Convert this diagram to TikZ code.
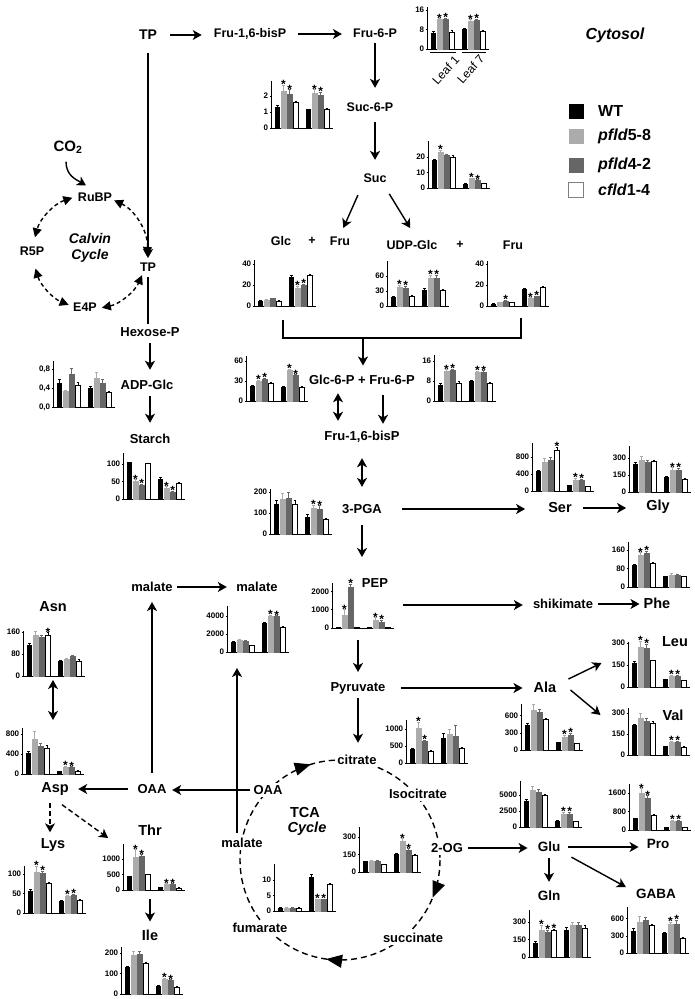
\documentclass[tikz,border=0pt]{standalone}
\usepackage{fontspec}
\setmainfont{Liberation Sans}
\usetikzlibrary{arrows.meta,calc}
\definecolor{lg}{HTML}{ABABAB}
\definecolor{dg}{HTML}{666666}
\tikzset{
 lab/.style={font=\fontsize{12.5}{13}\selectfont\bfseries,inner sep=1pt},
 labB/.style={font=\fontsize{13}{14}\selectfont\bfseries,inner sep=1pt},
 labC/.style={font=\fontsize{14}{15}\selectfont\bfseries,inner sep=1pt},
 calv/.style={font=\fontsize{14}{15}\selectfont\bfseries\itshape,inner sep=1pt},
 aa/.style={font=\fontsize{14.5}{16}\selectfont\bfseries,inner sep=1pt},
 aab/.style={font=\fontsize{13.5}{15}\selectfont\bfseries,inner sep=1pt},
 tcal/.style={labB,fill=white,inner sep=2pt},
 arr/.style={line width=1.4pt,-{Stealth[length=9pt,width=10pt,inset=2.5pt]}},
 darr/.style={line width=1.4pt,{Stealth[length=9pt,width=10pt,inset=2.5pt]}-{Stealth[length=9pt,width=10pt,inset=2.5pt]}},
 dsharr/.style={arr,dash pattern=on 5pt off 3pt},
 plainln/.style={line width=1.4pt},
 ccyc/.style={line width=1.4pt,dash pattern=on 4pt off 3pt,{Triangle[length=9pt,width=9pt]}-{Triangle[length=9pt,width=9pt]}},
 tcyc/.style={line width=1.4pt,dash pattern=on 6pt off 4pt},
 thead/.style={line width=1.4pt,-{Triangle[length=16pt,width=13pt]}},
 axl/.style={line width=0.7pt},
 tickl/.style={font=\fontsize{8}{8}\selectfont\bfseries,anchor=east,inner sep=1pt},
 starl/.style={font=\fontsize{12}{12}\selectfont\bfseries,anchor=base,yshift=-3.5pt,inner sep=0pt},
 legbox/.style={minimum size=15pt,inner sep=0pt},
 legt/.style={font=\fontsize{16}{17}\selectfont\bfseries,anchor=west,inner sep=0pt},
 leaf/.style={font=\fontsize{12}{13}\selectfont,inner sep=0pt,rotate=48,anchor=east},
}
% #1 x0, #2 y0 (origin), #3 px per unit, #4 axis height, #5 ticks v/l, #6 bars v/e/star
\newcommand\barch[6]{%
\begin{scope}[shift={(#1,#2)}]
\draw[axl] (62,0) -- (0,0) -- (0,-#4);
\foreach \tv/\tl in {#5}{\draw[axl] (0,-\tv*#3) -- (-1.5,-\tv*#3) node[tickl]{\tl};}
\foreach \bv/\be/\bs [count=\bi] in {#6}{%
 \pgfmathsetmacro\bx{\bi<5 ? 4+(\bi-1)*6.2 : 35+(\bi-5)*6.2}%
 \pgfmathtruncatemacro\bk{mod(\bi-1,4)}%
 \pgfmathsetmacro\bt{-(\bv)*#3}%
 \pgfmathsetmacro\et{-(\bv+\be)*#3}%
 \edef\bfc{\ifcase\bk black\or lg\or dg\or white\fi}%
 \edef\ecl{\ifcase\bk black\or lg\or dg\or black\fi}%
 \draw[draw=\ecl,line width=0.6pt] (\bx+2.3,\bt) -- (\bx+2.3,\et) (\bx+1,\et) -- (\bx+3.6,\et);
 \draw[fill=\bfc,draw=\ecl,line width=0.5pt] (\bx,0) rectangle (\bx+4.6,\bt);
 \ifnum\bs=1 \node[starl] at (\bx+2.3,\et) {*};\fi
}
\end{scope}}
\begin{document}
\begin{tikzpicture}[x=1pt,y=-1pt]
\fill[white] (0,0) rectangle (694,999);
\useasboundingbox (0,0) rectangle (694,999);

% ---------- charts ----------
\barch{427}{49}{2.44}{42}{0/0,8/8,16/16}{6.5/0.7/0,12/0.5/1,12.2/0.5/1,7/0.8/0,8/0.4/0,11.5/0.5/1,11.8/0.5/1,7.2/0.4/0}
\draw[axl] (430,52) -- (456,52) (462,52) -- (486,52);
\node[leaf] (leaf1) at (457,58) {Leaf 1};
\node[leaf] (leaf7) at (482,57) {Leaf 7};
\barch{271}{128}{16}{47}{0/0,1/1,2/2}{1.3/0.15/0,2.3/0.4/1,2.1/0.3/1,1.6/0.1/0,1.15/0.05/0,2.15/0.25/1,2.05/0.2/1,1.2/0.05/0}
\barch{428}{188}{1.55}{47}{0/0,10/10,20/20}{18/0.5/0,23/1.5/1,21/1/0,20/1/0,2.5/0.3/0,6/0.5/1,5/0.4/1,3/0.3/0}
\barch{254}{306}{1.05}{46}{0/0,20/20,40/40}{4.5/0.5/0,5.5/0.5/0,7/0.8/0,5/0.5/0,27.5/1.5/0,17/2/1,19.5/1.5/1,29.5/1/0}
\barch{387}{306}{0.5}{45}{0/0,30/30,60/60}{17/2/0,37/5/1,36/4/1,20/2/0,32/3/0,55/7/1,56/6/1,31/3/0}
\barch{487}{306}{1.05}{45}{0/0,20/20,40/40}{2/0.3/0,3.5/0.3/0,5/0.5/1,3.5/0.3/0,15.5/1/0,7.5/0.5/1,9/0.5/1,17.5/1/0}
\barch{53}{407}{47.5}{46}{0/{0,0},0.4/{0,4},0.8/{0,8}}{0.5/0.08/0,0.33/0.03/0,0.69/0.12/0,0.45/0.07/0,0.4/0.04/0,0.6/0.13/0,0.51/0.08/0,0.31/0.03/0}
\barch{123}{499}{0.35}{46}{0/0,50/50,100/100}{104/2/0,50/5/1,40/3/1,101/2/0,57/5/0,30/5/1,20/3/1,45/4/0}
\barch{246}{401}{0.667}{45}{0/0,30/30,60/60}{22/1/0,30/1/1,33/1.5/1,27/1/0,21/1/0,46/2/1,38/1.5/1,21/1/0}
\barch{434}{401}{2.5}{46}{0/0,8/8,16/16}{6.5/0.5/0,12/0.5/1,12.2/0.5/1,7/0.8/0,8/0.3/0,11.5/0.5/1,11.7/0.5/1,7.3/0.3/0}
\barch{270}{534}{0.21}{45}{0/0,100/100,200/200}{140/20/0,165/30/0,172/25/0,143/18/0,80/15/0,122/15/1,120/15/1,70/6/0}
\barch{532}{491}{0.0425}{48}{0/0,400/400,800/800}{460/30/0,680/80/0,720/80/0,960/80/1,130/15/0,250/50/1,250/30/1,110/10/0}
\barch{629}{492}{0.113}{46}{0/0,150/150,300/300}{250/15/0,280/40/0,260/25/0,270/15/0,130/10/0,190/25/1,190/20/1,110/8/0}
\barch{628}{587}{0.23}{45}{0/0,80/80,160/160}{95/5/0,140/10/1,145/10/1,105/3/0,45/3/0,52/6/0,52/4/0,45/3/0}
\barch{628}{687}{0.147}{45}{0/0,150/150,300/300}{165/10/0,270/40/1,265/25/1,180/5/0,50/3/0,75/5/1,75/5/1,45/3/0}
\barch{628}{755}{0.14}{47}{0/0,150/150,300/300}{210/10/0,265/30/0,240/20/0,230/10/0,60/5/0,90/10/1,90/8/1,55/5/0}
\barch{332}{628}{0.0183}{45}{0/0,1000/1000,2000/2000}{40/10/0,700/300/1,2250/150/1,50/10/0,20/5/0,420/150/1,320/120/1,20/5/0}
\barch{227}{652}{0.009}{46}{0/0,2000/2000,4000/4000}{1100/80/0,1300/80/0,1250/60/0,750/50/0,3200/80/0,4000/100/1,3950/100/1,2800/80/0}
\barch{23}{676}{0.275}{45}{0/0,80/80,160/160}{112/8/0,148/15/0,140/8/0,150/8/1,52/4/0,60/5/0,72/5/0,55/6/0}
\barch{22}{774}{0.05}{46}{0/0,400/400,800/800}{420/30/0,700/150/0,550/60/0,520/50/0,50/5/0,140/20/1,130/20/1,60/8/0}
\barch{24}{913}{0.39}{47}{0/0,50/50,100/100}{55/6/0,105/15/1,103/5/1,76/3/0,30/3/0,42/3/1,45/3/1,32/2/0}
\barch{123}{890}{0.031}{46}{0/0,500/500,1000/1000}{430/20/0,1050/250/1,1080/60/1,500/15/0,90/10/0,190/15/1,190/15/1,70/5/0}
\barch{121}{994}{0.205}{47}{0/0,100/100,200/200}{130/5/0,190/20/0,195/15/0,150/5/0,40/3/0,70/8/1,65/5/1,35/3/0}
\barch{406}{763}{0.034}{43}{0/0,500/500,1000/1000}{400/40/0,1020/180/1,630/50/1,340/30/0,720/150/0,850/130/0,800/300/0,430/40/0}
\barch{521}{750}{0.057}{46}{0/0,300/300,600/600}{440/30/0,700/100/0,660/50/0,540/20/0,130/10/0,230/30/1,260/30/1,110/10/0}
\barch{520}{827}{0.0064}{46}{0/0,2500/2500,5000/5000}{4100/300/0,5800/600/0,5500/400/0,4900/200/0,900/100/0,2000/300/1,2050/300/1,850/80/0}
\barch{629}{830}{0.023}{46}{0/0,800/800,1600/1600}{500/30/0,1600/200/1,1400/100/1,650/30/0,120/10/0,380/40/1,400/30/1,100/10/0}
\barch{529}{957}{0.117}{47}{0/0,150/150,300/300}{120/15/0,225/50/1,215/15/1,230/10/1,230/20/0,270/25/0,270/25/0,245/25/0}
\barch{627}{953}{0.057}{46}{0/0,300/300,600/600}{390/40/0,540/100/0,570/60/0,480/30/0,340/25/0,500/40/1,510/70/1,260/20/0}

% ---------- TCA cycle ----------
\coordinate (tcaC) at (340,860);
\draw[tcyc] (tcaC) circle[radius=100];
\draw[thead] (tcaC) ++(-116:100) arc[start angle=-116,end angle=-107,radius=100];
\draw[thead] (tcaC) ++(13:100) arc[start angle=13,end angle=22,radius=100];
\draw[thead] (tcaC) ++(89:100) arc[start angle=89,end angle=98,radius=100];
\barch{274}{911}{3.1}{47}{0/0,5/5,10/10}{1/0.1/0,1/0.05/0,1/0.05/0,1/0.1/0,11/0.8/0,3.7/0.2/1,3.7/0.2/1,8.5/0.6/0}
\barch{359}{872}{0.117}{45}{0/0,150/150,300/300}{88/5/0,95/5/0,95/5/0,65/5/0,150/8/0,260/25/1,190/10/1,140/12/0}

% ---------- labels ----------
\node[labC] (tpa) at (148,35) {TP};
\node[lab] (fbp1) at (250,34) {Fru-1,6-bisP};
\node[lab] (f6p) at (375,33) {Fru-6-P};
\node[lab] (s6p) at (370,107) {Suc-6-P};
\node[lab] (suc) at (375,178) {Suc};
\node[lab] (glc) at (281,241) {Glc};
\node[lab] (pl1) at (312,241) {+};
\node[lab] (frua) at (340,241) {Fru};
\node[lab] (udpg) at (412,245) {UDP-Glc};
\node[lab] (pl2) at (460,245) {+};
\node[lab] (frub) at (513,245) {Fru};
\node[font=\fontsize{16}{17}\selectfont\bfseries\itshape,inner sep=1pt] (cyt) at (615,35) {Cytosol};
\node[font=\fontsize{15}{16}\selectfont\bfseries,inner sep=1pt] (co2) at (68,147) {CO\textsubscript{2}};
\node[lab] (rubp) at (95,197) {RuBP};
\node[lab] (r5p) at (32,251) {R5P};
\node[lab] (e4p) at (85,307) {E4P};
\node[lab] (tpb) at (148,267) {TP};
\node[calv] (calv1) at (90,238) {Calvin};
\node[calv] (calv2) at (90,256) {Cycle};
\node[labB] (hexp) at (150,332) {Hexose-P};
\node[labB] (adpg) at (147,385) {ADP-Glc};
\node[labB] (starch) at (150,439) {Starch};
\node[labB] (g6p) at (362,380) {Glc-6-P + Fru-6-P};
\node[labB] (fbp2) at (362,437) {Fru-1,6-bisP};
\node[labB] (pga) at (362,509) {3-PGA};
\node[labB] (pep) at (375,583) {PEP};
\node[labB] (pyr) at (358,688) {Pyruvate};
\node[labB] (mala) at (152,587) {malate};
\node[labB] (malb) at (257,587) {malate};
\node[labB] (oaa) at (152,789) {OAA};
\node[tcal] (cit) at (357,760) {citrate};
\node[tcal] (iso) at (418,794) {Isocitrate};
\node[tcal] (og) at (447,848) {2-OG};
\node[tcal] (succ) at (413,938) {succinate};
\node[tcal] (fum) at (260,928) {fumarate};
\node[tcal] (malt) at (242,843) {malate};
\node[tcal] (oaat) at (268,790) {OAA};
\node[font=\fontsize{14.5}{16}\selectfont\bfseries,inner sep=1pt] (tca1) at (305,812) {TCA};
\node[font=\fontsize{14.5}{16}\selectfont\bfseries\itshape,inner sep=1pt] (tca2) at (307,829) {Cycle};
\node[aa] (asn) at (53,607) {Asn};
\node[aa] (asp) at (55,789) {Asp};
\node[aa] (lys) at (53,845) {Lys};
\node[aa] (thr) at (150,830) {Thr};
\node[aa] (ile) at (150,935) {Ile};
\node[aa] (ser) at (560,508) {Ser};
\node[aa] (gly) at (658,507) {Gly};
\node[labB] (shik) at (563,604) {shikimate};
\node[aa] (phe) at (657,603) {Phe};
\node[aa] (ala) at (545,687) {Ala};
\node[aa] (leu) at (675,642) {Leu};
\node[aa] (val) at (673,715) {Val};
\node[aab] (glu) at (549,847) {Glu};
\node[aab] (pro) at (658,844) {Pro};
\node[aab] (gln) at (549,896) {Gln};
\node[aab] (gaba) at (656,894) {GABA};

% legend
\node[legbox,fill=black] (lg1) at (576,111) {};
\node[legt] (lt1) at (598,111) {WT};
\node[legbox,fill=lg] (lg2) at (576,136) {};
\node[legt] (lt2) at (598,136) {\textit{pfld}5-8};
\node[legbox,fill=dg] (lg3) at (576,165) {};
\node[legt] (lt3) at (598,165) {\textit{pfld}4-2};
\node[legbox,fill=white,draw=gray,line width=0.7pt] (lg4) at (576,190) {};
\node[legt] (lt4) at (598,190) {\textit{cfld}1-4};

% ---------- connectors ----------
\draw[arr,shorten <=12pt,shorten >=11pt] (tpa.east) -- (tpa.east -| fbp1.west);
\draw[arr,shorten <=11pt,shorten >=10pt] (fbp1.east) -- (fbp1.east -| f6p.west);
\draw[arr,shorten <=11.5pt,shorten >=3.5pt] (tpa.south) -- (tpb.north);
\draw[arr,shorten <=4.5pt,shorten >=13.5pt] (f6p.south) -- (f6p.south |- s6p.north);
\draw[arr,shorten <=9.5pt,shorten >=12.5pt] (s6p.south -| f6p.south) -- (f6p.south |- suc.north);
\draw[arr,shorten <=12.6pt,shorten >=8.2pt] ($(suc.south)+(-12,0)$) -- (frua.north);
\draw[arr,shorten <=12pt,shorten >=13pt] ($(suc.south)+(8,0)$) -- ($(udpg.north)+(5,0)$);
\coordinate (bkl) at (283,320);
\coordinate (bkr) at (521,318);
\coordinate (bkm) at (363,338);
\draw[plainln] (bkl) -- ++(0,18) -| (bkr);
\draw[arr,shorten >=8.5pt] (bkm) -- (bkm |- g6p.north);
\draw[darr,shorten <=7.3pt,shorten >=9.3pt] ($(g6p.south)+(-24,0)$) -- ($(fbp2.north)+(-24,0)$);
\draw[arr,shorten <=9.3pt,shorten >=6.3pt] ($(g6p.south)+(21,0)$) -- ($(fbp2.north)+(21,0)$);
\draw[darr,shorten <=14.3pt,shorten >=16.3pt] (fbp2.south) -- (pga.north);
\draw[arr,shorten <=10.3pt,shorten >=20.3pt] (pga.south) -- (pga.south |- pep.north);
\coordinate (pepax) at (358,628);
\coordinate (pepR) at (394,605);
\draw[arr,shorten <=12pt,shorten >=9pt] (pepax) -- (pepax |- pyr.north);
\draw[arr,shorten <=3pt,shorten >=10.3pt] (pyr.south) -- (pyr.south |- cit.north);
\draw[arr,shorten <=19pt,shorten >=22pt] (pga.east) -- (pga.east -| ser.west);
\draw[arr,shorten <=10pt,shorten >=19pt] (ser.east) -- (ser.east -| gly.west);
\draw[arr,shorten <=9pt,shorten >=9pt] (pepR) -- (pepR -| shik.west);
\draw[arr,shorten <=4pt,shorten >=3pt] (shik.east) -- (shik.east -| phe.west);
\draw[arr,shorten <=14pt,shorten >=10pt] (pyr.east) -- (pyr.east -| ala.west);
\draw[arr] ($(ala.east)+(11,-8)$) -- ($(ala.east)+(44,-24)$);
\draw[arr] ($(ala.east)+(13,3)$) -- ($(ala.east)+(43,28)$);
\draw[arr,shorten <=3pt,shorten >=9pt] (og.east) -- (og.east -| glu.west);
\draw[arr,shorten <=7pt,shorten >=7pt] (glu.east) -- (glu.east -| pro.west);
\draw[arr,shorten <=5pt,shorten >=8pt] (glu.south) -- (glu.south |- gln.north);
\draw[arr] ($(glu.south east)+(10,4)$) -- ($(gaba.north west)+(-9,-1)$);
\draw[arr,shorten <=3.4pt,shorten >=8.4pt] (mala.east) -- (malb.west);
\draw[arr,shorten <=10pt,shorten >=9pt] (oaa.north) -- (mala.south);
\coordinate (malC) at (237,668);
\draw[arr,shorten <=3pt] ($(malt.north)+(-5,0)$) -- (malC);
\draw[arr,shorten <=1pt,shorten >=4.5pt] (oaat.west) -- (oaat.west -| oaa.east);
\draw[arr,shorten <=8.5pt,shorten >=8.3pt] (oaa.west) -- (oaa.west -| asp.east);
\coordinate (asnAx) at (53,676);
\coordinate (aspTop) at (53,728);
\draw[darr,shorten <=4pt,shorten >=8pt] (asnAx) -- (aspTop);
\coordinate (asplys) at ($(asp.south)+(-5,0)$);
\draw[dsharr,shorten <=6pt,shorten >=5pt] (asplys) -- (asplys |- lys.north);
\draw[dsharr] ($(asp.south)+(7,8)$) -- ($(thr.west)+(-29,8)$);
\coordinate (thrAx) at (150,890);
\draw[arr,shorten <=9pt,shorten >=7pt] (thrAx) -- (ile.north);
\draw[plainln,shorten <=4.5pt,shorten >=2pt] (tpb.south) -- (tpb.south |- hexp.north);
\draw[arr,shorten <=5.3pt,shorten >=9.3pt] (hexp.south) -- (hexp.south |- adpg.north);
\draw[arr,shorten <=5.3pt,shorten >=10.3pt] (adpg.south -| hexp.south) -- (hexp.south |- starch.north);
\draw[arr] ($(co2.south)+(-2,7)$) .. controls +(0,14) and +(-10,-6) .. ($(rubp.north)+(-9,-6)$);

% Calvin cycle
\coordinate (calC) at (90,252);
\draw[ccyc] (calC) ++(-108:57) arc[start angle=-108,end angle=-165,radius=57];
\draw[ccyc] (calC) ++(163:57) arc[start angle=163,end angle=112,radius=57];
\draw[ccyc] (calC) ++(78:57) arc[start angle=78,end angle=24,radius=57];
\draw[ccyc] (calC) ++(4:57) arc[start angle=4,end angle=-65,radius=57];
\end{tikzpicture}
\end{document}
